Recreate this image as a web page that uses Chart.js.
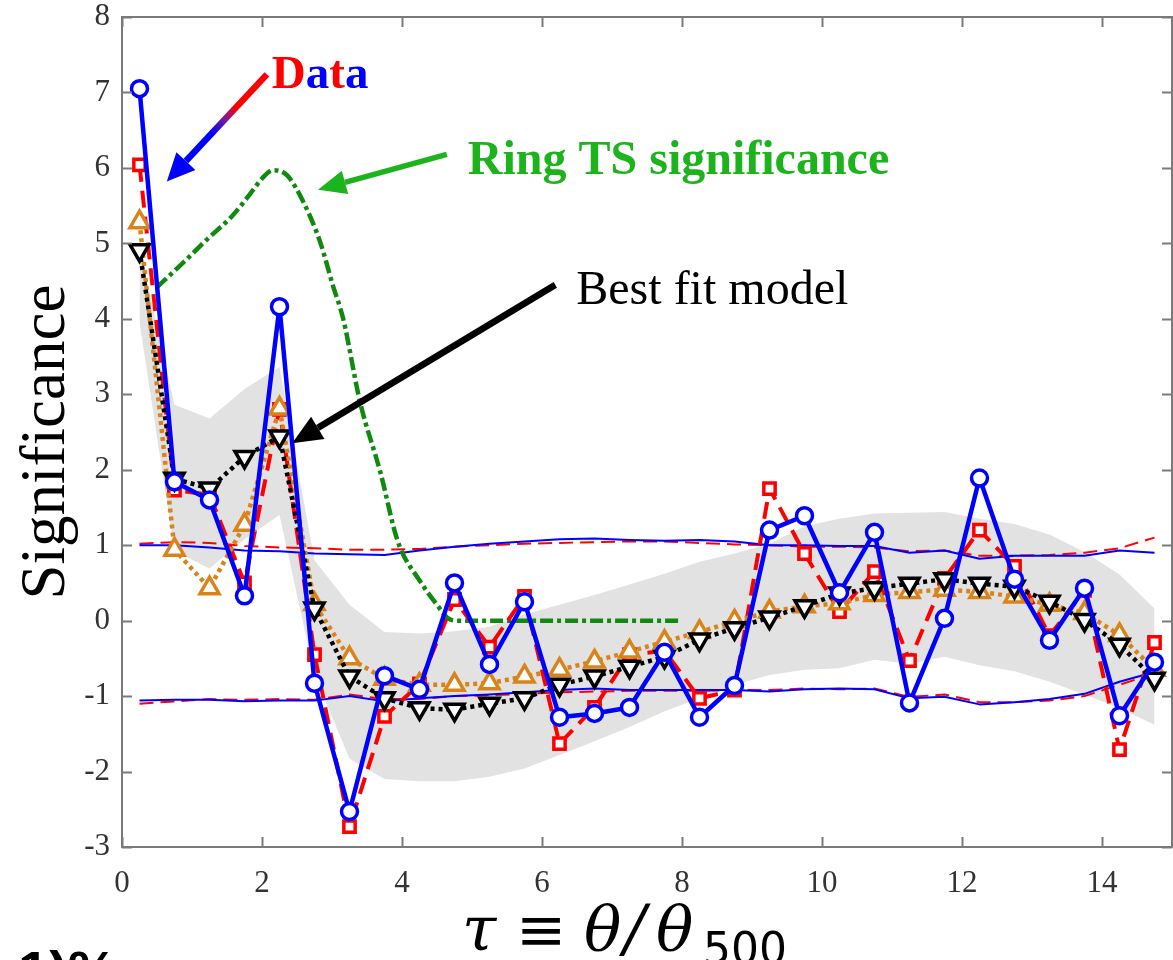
<!DOCTYPE html>
<html>
<head>
<meta charset="utf-8">
<script src="https://cdn.jsdelivr.net/npm/chart.js@4.4.1/dist/chart.umd.min.js"></script>
<style>
  html, body { margin: 0; padding: 0; background: #fff; overflow: hidden; }
  #wrap { width: 1173px; height: 960px; }
</style>
</head>
<body>
<div id="wrap"><canvas id="sigChart" width="1173" height="960"></canvas></div>
<script>
/* ---------- data ---------- */
const tau = [0.25, 0.75, 1.25, 1.75, 2.25, 2.75, 3.25, 3.75, 4.25, 4.75,
             5.25, 5.75, 6.25, 6.75, 7.25, 7.75, 8.25, 8.75, 9.25, 9.75,
             10.25, 10.75, 11.25, 11.75, 12.25, 12.75, 13.25, 13.75, 14.25, 14.75];

// measured profile (blue circles)
const sigBlue = [7.05, 1.84, 1.60, 0.33, 4.16, -0.83, -2.53, -0.73, -0.91, 0.50,
                 -0.58, 0.25, -1.28, -1.23, -1.15, -0.42, -1.28, -0.86, 1.20, 1.39,
                 0.37, 1.17, -1.09, 0.03, 1.89, 0.55, -0.26, 0.43, -1.26, -0.55];
// measured profile (red squares)
const sigRed = [6.04, 1.73, 1.67, 0.50, 2.80, -0.45, -2.73, -1.27, -0.84, 0.28,
                -0.35, 0.32, -1.63, -1.15, -0.45, -0.40, -1.03, -0.92, 1.75, 0.89,
                0.12, 0.65, -0.53, 0.56, 1.20, 0.72, -0.20, 0.40, -1.71, -0.29];
// model curves
const sigOrange = [5.28, 0.94, 0.43, 1.27, 2.81, 0.22, -0.50, -0.77, -0.85, -0.85,
                   -0.83, -0.74, -0.65, -0.54, -0.41, -0.28, -0.15, -0.01, 0.12, 0.19,
                   0.23, 0.34, 0.38, 0.41, 0.38, 0.32, 0.21, 0.10, -0.19, -0.65];
const sigBest = [4.91, 1.88, 1.75, 2.17, 2.44, 0.16, -0.74, -1.03, -1.16, -1.18,
                 -1.10, -1.03, -0.85, -0.74, -0.61, -0.48, -0.25, -0.10, 0.04, 0.19,
                 0.36, 0.43, 0.49, 0.55, 0.49, 0.45, 0.25, 0.01, -0.32, -0.77];
// model scatter band
const bandHi = [4.95, 2.86, 2.68, 3.07, 3.36, 0.80, 0.21, -0.15, -0.17, -0.14,
                -0.08, 0.08, 0.21, 0.34, 0.48, 0.62, 0.78, 0.89, 1.02, 1.25,
                1.35, 1.42, 1.43, 1.44, 1.35, 1.28, 1.14, 0.91, 0.61, 0.16];
const bandLo = [3.95, 0.92, 0.69, 1.08, 1.40, -0.72, -1.83, -2.10, -2.13, -2.13,
                -2.07, -1.96, -1.78, -1.60, -1.41, -1.20, -1.03, -0.85, -0.72, -0.65,
                -0.63, -0.52, -0.57, -0.48, -0.59, -0.67, -0.81, -0.98, -1.16, -1.38];
// +/-1 sigma noise envelopes
const envBlueHi = [1.00, 1.00, 0.97, 0.93, 0.92, 0.89, 0.88, 0.87, 0.93, 0.98,
                   1.02, 1.05, 1.08, 1.09, 1.07, 1.06, 1.07, 1.05, 1.00, 1.00,
                   0.99, 0.99, 0.90, 0.93, 0.82, 0.86, 0.86, 0.86, 0.93, 0.90];
const envRedHi = [1.02, 1.04, 1.03, 0.99, 0.97, 0.96, 0.94, 0.94, 0.95, 0.98,
                  1.00, 1.02, 1.03, 1.04, 1.05, 1.05, 1.03, 1.01, 1.00, 0.98,
                  0.98, 0.97, 0.92, 0.93, 0.86, 0.86, 0.87, 0.90, 0.96, 1.10];
const envBlueLo = [-1.06, -1.05, -1.05, -1.07, -1.06, -1.06, -1.00, -1.07, -1.03, -1.00,
                   -0.98, -0.95, -0.92, -0.90, -0.92, -0.92, -0.92, -0.92, -0.94, -0.91,
                   -0.90, -0.91, -1.03, -1.01, -1.11, -1.08, -1.04, -0.97, -0.81, -0.68];
const envRedLo = [-1.10, -1.07, -1.04, -1.05, -1.04, -1.05, -0.98, -1.04, -1.04, -1.00,
                  -0.99, -0.97, -0.95, -0.94, -0.93, -0.93, -0.93, -0.92, -0.92, -0.90,
                  -0.91, -0.90, -1.01, -0.98, -1.08, -1.08, -1.06, -1.00, -0.85, -0.70];
// ring TS significance curve
const ringX = [0.50, 0.87, 1.20, 1.59, 1.85, 2.00, 2.16, 2.36, 2.59, 2.83,
               3.01, 3.16, 3.40, 3.69, 3.94, 4.26, 4.50, 4.66, 4.80, 8.00];
const ringY = [4.42, 4.74, 5.04, 5.38, 5.68, 5.86, 5.97, 5.90, 5.55, 5.02,
               4.45, 4.00, 2.90, 1.97, 1.05, 0.52, 0.21, 0.03, 0.00, 0.00];

const xTicks = [0, 2, 4, 6, 8, 10, 12, 14];
const yTicks = [-3, -2, -1, 0, 1, 2, 3, 4, 5, 6, 7, 8];

const pts = (xs, ys) => xs.map((x, i) => ({ x: x, y: ys[i] }));
const SERIF = '"Liberation Serif", "Times New Roman", serif';

/* ---------- axes box with inward ticks ---------- */
const frame = {
  id: 'frame',
  afterDraw(chart) {
    const { ctx, chartArea: a, scales: { x, y } } = chart;
    ctx.save();
    ctx.strokeStyle = '#7a7a7a';
    ctx.lineWidth = 2;
    ctx.strokeRect(a.left, a.top, a.right - a.left, a.bottom - a.top);
    ctx.beginPath();
    xTicks.forEach(v => {
      const px = Math.round(x.getPixelForValue(v)) + 0.5;
      ctx.moveTo(px, a.bottom); ctx.lineTo(px, a.bottom - 10);
      ctx.moveTo(px, a.top); ctx.lineTo(px, a.top + 10);
    });
    yTicks.forEach(v => {
      const py = Math.round(y.getPixelForValue(v)) + 0.5;
      ctx.moveTo(a.left, py); ctx.lineTo(a.left + 10, py);
      ctx.moveTo(a.right, py); ctx.lineTo(a.right - 10, py);
    });
    ctx.stroke();
    ctx.restore();
  }
};

/* ---------- arrows, labels, axis titles ---------- */
function arrow(ctx, x1, y1, x2, y2, stroke, fill, width, headLen, headHalf) {
  const ang = Math.atan2(y2 - y1, x2 - x1);
  const bx = x2 - headLen * Math.cos(ang), by = y2 - headLen * Math.sin(ang);
  ctx.save();
  ctx.strokeStyle = stroke;
  ctx.lineWidth = width;
  ctx.beginPath();
  ctx.moveTo(x1, y1);
  ctx.lineTo(bx, by);
  ctx.stroke();
  ctx.fillStyle = fill;
  ctx.beginPath();
  ctx.moveTo(x2, y2);
  ctx.lineTo(bx + headHalf * Math.sin(ang), by - headHalf * Math.cos(ang));
  ctx.lineTo(bx - headHalf * Math.sin(ang), by + headHalf * Math.cos(ang));
  ctx.closePath();
  ctx.fill();
  ctx.restore();
}

const notes = {
  id: 'notes',
  afterDraw(chart) {
    const { ctx, scales: { x, y } } = chart;
    const X = v => x.getPixelForValue(v), Y = v => y.getPixelForValue(v);

    // "Data" arrow, red fading to blue
    const g = ctx.createLinearGradient(X(2.07), Y(7.24), X(0.64), Y(5.82));
    g.addColorStop(0, '#ff0000');
    g.addColorStop(0.3, '#ff0000');
    g.addColorStop(0.42, '#7a1a9a');
    g.addColorStop(0.55, '#0000ff');
    g.addColorStop(1, '#0000ff');
    arrow(ctx, X(2.07), Y(7.24), X(0.64), Y(5.82), g, '#0000ff', 6.5, 28, 13);
    arrow(ctx, X(4.64), Y(6.18), X(2.80), Y(5.71), '#1db31d', '#1db31d', 5.5, 28, 12);
    arrow(ctx, X(6.19), Y(4.45), X(2.43), Y(2.35), '#000000', '#000000', 6.5, 30, 13);

    ctx.save();
    ctx.textBaseline = 'alphabetic';
    ctx.textAlign = 'left';
    // "Data" in alternating colours
    ctx.font = 'bold 47px ' + SERIF;
    let cx = X(2.14);
    const cy = Y(7.06);
    [['D', '#ff0000'], ['a', '#0000ff'], ['t', '#ff0000'], ['a', '#0000ff']].forEach(([ch, col]) => {
      ctx.fillStyle = col;
      ctx.fillText(ch, cx, cy);
      cx += ctx.measureText(ch).width;
    });
    ctx.fillStyle = '#1db31d';
    ctx.font = 'bold 48px ' + SERIF;
    ctx.fillText('Ring TS significance', X(4.94), Y(5.92));
    ctx.fillStyle = '#000';
    ctx.font = '48px ' + SERIF;
    ctx.fillText('Best fit model', X(6.49), Y(4.20));

    // y title
    ctx.save();
    ctx.translate(64, 442);
    ctx.rotate(-Math.PI / 2);
    ctx.textAlign = 'center';
    ctx.font = '63px ' + SERIF;
    ctx.fillText('Significance', 0, 0);
    ctx.restore();

    // x title: tau = theta / theta_500, glyphs set one by one
    const MATH = '"DejaVu Serif", serif';
    const parts = [
      { t: '\u03C4', f: 'italic 62px ' + MATH, x: 462, dy: 0 },
      { t: '\u2261', f: '60px ' + MATH, x: 516, dy: 0 },
      { t: '\u03B8', f: 'italic 62px ' + MATH, x: 584, dy: 0 },
      { t: '/', f: 'italic 64px ' + MATH, x: 624, dy: 0 },
      { t: '\u03B8', f: 'italic 62px ' + MATH, x: 656, dy: 0 },
      { t: '500', f: '44px "DejaVu Sans", sans-serif', x: 703, dy: 14 }
    ];
    parts.forEach(p => {
      ctx.font = p.f;
      ctx.fillText(p.t, p.x, 950 + p.dy);
    });

    // caption cut off by the bottom edge
    ctx.font = 'bold 56px "Liberation Sans", Arial, sans-serif';
    ctx.fillText('1)%', 18, 990);
    ctx.restore();
  }
};

/* ---------- chart ---------- */
const line = (data, color, width, dash, extra) => Object.assign({
  data: data,
  borderColor: color,
  borderWidth: width,
  borderDash: dash,
  borderJoinStyle: 'round',
  pointRadius: 0,
  fill: false,
  tension: 0
}, extra || {});

new Chart(document.getElementById('sigChart'), {
  type: 'line',
  data: {
    datasets: [
      line(pts(tau, sigBlue), '#0000ff', 4.5, [], {
        order: 0, pointStyle: 'circle', pointRadius: 8, pointBorderWidth: 3.5,
        pointBackgroundColor: '#fff', pointBorderColor: '#0000ff'
      }),
      line(pts(tau, sigBest), '#000000', 4.5, [4, 4], {
        order: 1, pointStyle: 'triangle', pointRotation: 180, pointRadius: 11, pointBorderWidth: 3.5,
        pointBackgroundColor: '#fff', pointBorderColor: '#000000'
      }),
      line(pts(tau, sigOrange), '#d9841a', 4.5, [4, 4], {
        order: 2, pointStyle: 'triangle', pointRadius: 11, pointBorderWidth: 3.5,
        pointBackgroundColor: '#fff', pointBorderColor: '#d9841a'
      }),
      line(pts(tau, sigRed), '#ff0000', 4, [17, 9], {
        order: 3, pointStyle: 'rect', pointRadius: 8, pointBorderWidth: 3.5,
        pointBackgroundColor: '#fff', pointBorderColor: '#ff0000'
      }),
      line(pts(ringX, ringY), '#0f8a0f', 4.5, [13, 4, 4, 4], {
        order: 4, cubicInterpolationMode: 'monotone'
      }),
      line(pts(tau, envBlueHi), '#0000ff', 2, [], { order: 5 }),
      line(pts(tau, envRedHi), '#ff0000', 2, [14, 7], { order: 5 }),
      line(pts(tau, envBlueLo), '#0000ff', 2, [], { order: 5 }),
      line(pts(tau, envRedLo), '#ff0000', 2, [14, 7], { order: 5 }),
      line(pts(tau, bandLo), 'rgba(0,0,0,0)', 0, [], { order: 7 }),
      line(pts(tau, bandHi), 'rgba(0,0,0,0)', 0, [], {
        order: 6, fill: '-1', backgroundColor: '#e2e2e2'
      })
    ]
  },
  options: {
    responsive: false,
    animation: false,
    devicePixelRatio: 1,
    layout: { autoPadding: false, padding: { top: 17, right: 1, left: 0, bottom: 0 } },
    plugins: { legend: { display: false }, tooltip: { enabled: false } },
    scales: {
      x: {
        type: 'linear', min: 0, max: 15,
        grid: { display: false, drawTicks: false },
        border: { display: false },
        afterFit: s => { s.height = 113; s.paddingLeft = 0; s.paddingRight = 0; },
        afterBuildTicks: s => { s.ticks = xTicks.map(v => ({ value: v })); },
        ticks: { padding: 18, color: '#333', font: { family: SERIF, size: 31 }, maxRotation: 0 }
      },
      y: {
        min: -3, max: 8,
        grid: { display: false, drawTicks: false },
        border: { display: false },
        afterFit: s => { s.width = 122; s.paddingTop = 0; s.paddingBottom = 0; },
        afterBuildTicks: s => { s.ticks = yTicks.map(v => ({ value: v })); },
        ticks: { padding: 12, color: '#333', font: { family: SERIF, size: 31 } }
      }
    }
  },
  plugins: [frame, notes]
});
</script>
</body>
</html>
